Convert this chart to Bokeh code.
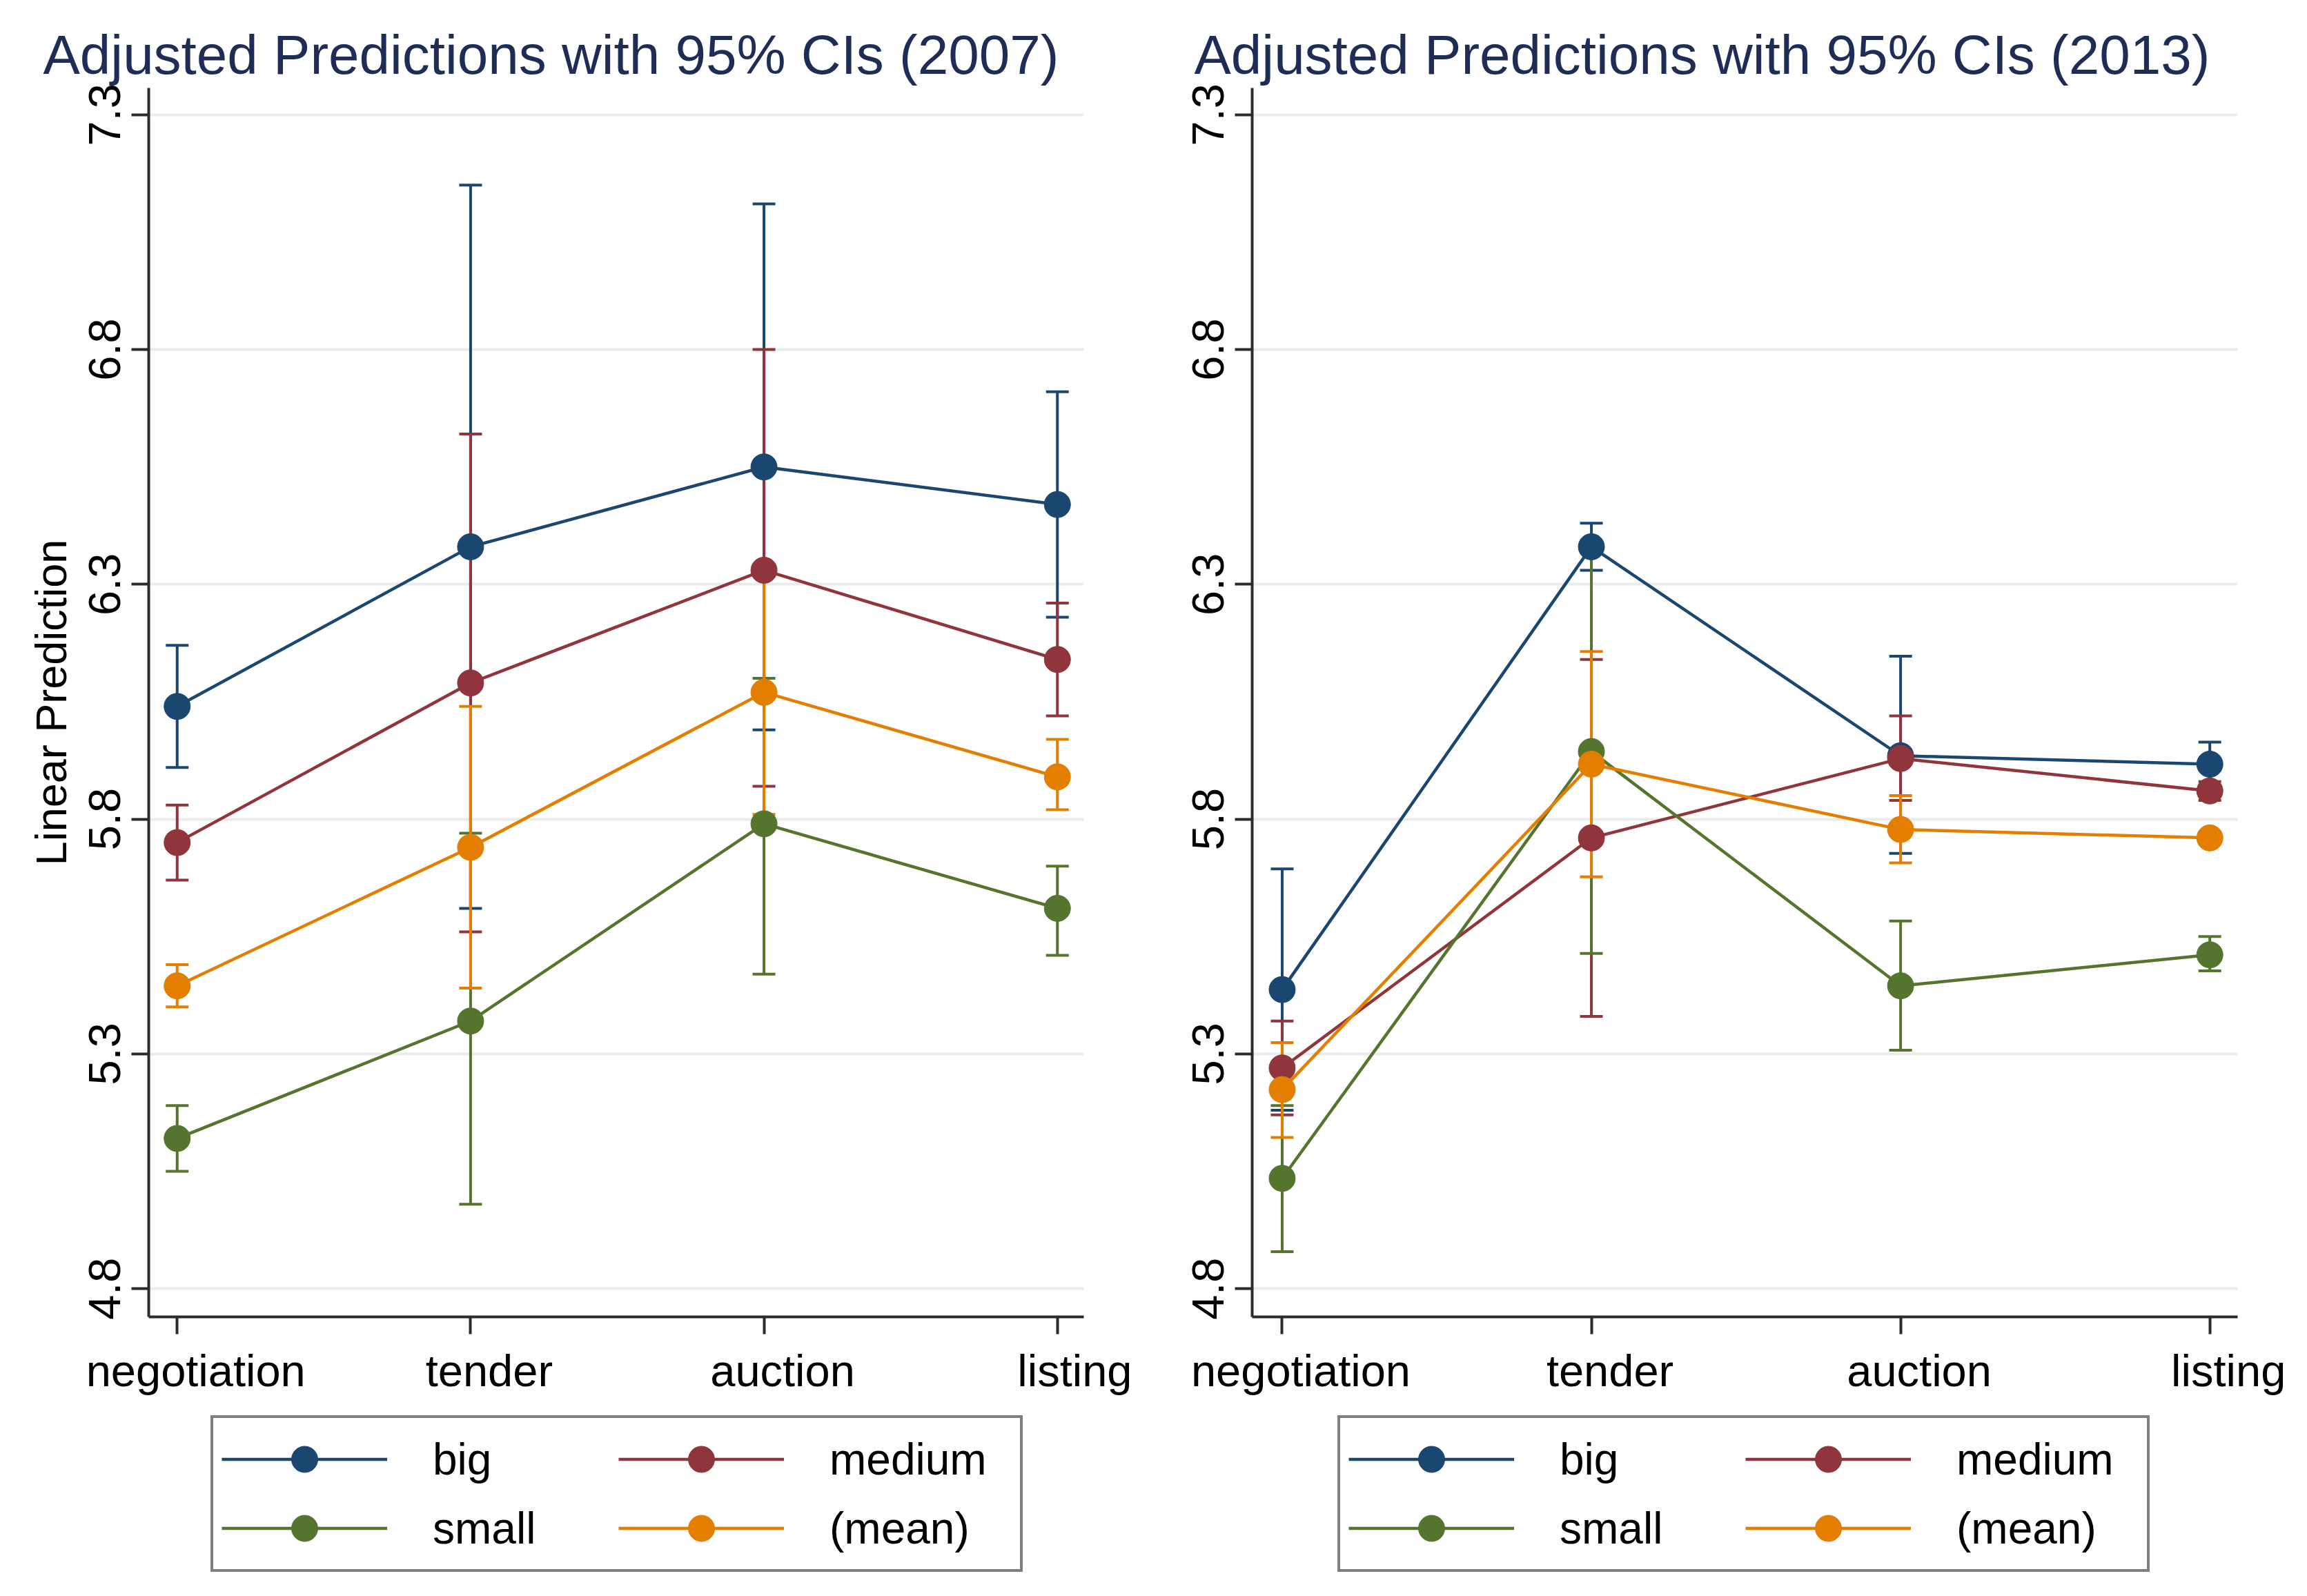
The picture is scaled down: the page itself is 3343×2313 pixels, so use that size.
from bokeh.plotting import figure
from bokeh.layouts import row, column
from bokeh.models import (ColumnDataSource, Range1d, FixedTicker, Whisker, TeeHead,
                          Legend, LegendItem, LinearAxis, CustomLabelingPolicy)
from bokeh.embed import file_html
from bokeh.resources import INLINE

categories = ["negotiation", "tender", "auction", "listing"]
cat_pos = [0, 1, 2, 3]
y_ticks = [4.8, 5.3, 5.8, 6.3, 6.8, 7.3]
series_names = ["big", "medium", "small", "(mean)"]
series_colors = ["#1a476f", "#90353b", "#55752f", "#e37e00"]

# 2007
big_2007 = [6.04, 6.38, 6.55, 6.47]
big_2007_lo = [5.91, 5.61, 5.99, 6.23]
big_2007_hi = [6.17, 7.15, 7.11, 6.71]
medium_2007 = [5.75, 6.09, 6.33, 6.14]
medium_2007_lo = [5.67, 5.56, 5.87, 6.02]
medium_2007_hi = [5.83, 6.62, 6.80, 6.26]
small_2007 = [5.12, 5.37, 5.79, 5.61]
small_2007_lo = [5.05, 4.98, 5.47, 5.51]
small_2007_hi = [5.19, 5.77, 6.10, 5.70]
mean_2007 = [5.445, 5.74, 6.07, 5.89]
mean_2007_lo = [5.40, 5.44, 5.81, 5.82]
mean_2007_hi = [5.49, 6.04, 6.33, 5.97]

# 2013
big_2013 = [5.437, 6.38, 5.935, 5.917]
big_2013_lo = [5.18, 6.33, 5.727, 5.87]
big_2013_hi = [5.694, 6.43, 6.147, 5.964]
medium_2013 = [5.27, 5.76, 5.929, 5.86]
medium_2013_lo = [5.17, 5.38, 5.84, 5.84]
medium_2013_hi = [5.37, 6.14, 6.02, 5.88]
small_2013 = [5.035, 5.944, 5.445, 5.511]
small_2013_lo = [4.879, 5.514, 5.308, 5.477]
small_2013_hi = [5.19, 6.37, 5.583, 5.55]
mean_2013 = [5.224, 5.917, 5.778, 5.76]
mean_2013_lo = [5.122, 5.677, 5.707, 5.75]
mean_2013_hi = [5.324, 6.157, 5.85, 5.77]

FONT = "Liberation Sans"
TOP_H = 2040
LEG_H = 257
X0, X1 = -0.097, 3.09
Y0, Y1 = 4.74, 7.357


def make_panel(title, title_offset, data, width, b_left, b_right, ylabel):
    p = figure(width=width, height=TOP_H, x_range=Range1d(X0, X1),
               y_range=Range1d(Y0, Y1), output_backend="svg",
               toolbar_location=None, min_border_left=b_left,
               min_border_right=b_right, min_border_top=127,
               min_border_bottom=132)
    p.outline_line_color = None
    p.background_fill_color = "white"
    p.border_fill_color = "white"
    p.title.text = title
    p.title.text_font = FONT
    p.title.text_font_size = "80px"
    p.title.text_font_style = "normal"
    p.title.text_color = "#1f2d56"
    p.title.align = "left"
    p.title.offset = title_offset
    p.title.standoff = 8

    p.xgrid.visible = False
    p.ygrid.grid_line_color = "#ebebeb"
    p.ygrid.grid_line_width = 4
    p.yaxis.ticker = FixedTicker(ticks=y_ticks)
    p.xaxis.ticker = FixedTicker(ticks=cat_pos)
    for ax in (p.xaxis[0], p.yaxis[0]):
        ax.axis_line_color = "#2b2b2b"
        ax.axis_line_width = 4
        ax.major_tick_line_color = "#2b2b2b"
        ax.major_tick_line_width = 4
        ax.major_tick_out = 25
        ax.major_tick_in = 0
        ax.minor_tick_line_color = None
        ax.major_label_text_font = FONT
        ax.major_label_text_font_size = "65px"
        ax.major_label_text_color = "black"
    # tick marks only on the main x axis; the category labels are drawn by a
    # second axis, nudged right as in the original
    p.xaxis[0].major_label_policy = CustomLabelingPolicy(code="return []")
    p.xaxis[0].major_label_text_font_size = "1px"
    p.xaxis[0].major_label_standoff = 0
    frame_w = width - b_left - b_right
    off = 27 * (X1 - X0) / frame_w
    label_pos = [round(c + off, 4) for c in cat_pos]
    lab_ax = LinearAxis(ticker=FixedTicker(ticks=label_pos),
                        major_label_overrides={lp: c for lp, c in zip(label_pos, categories)})
    lab_ax.axis_line_color = None
    lab_ax.major_tick_line_color = None
    lab_ax.minor_tick_line_color = None
    lab_ax.major_tick_out = 0
    lab_ax.major_tick_in = 0
    lab_ax.major_label_standoff = 12
    lab_ax.major_label_text_font = FONT
    lab_ax.major_label_text_font_size = "65px"
    lab_ax.major_label_text_color = "black"
    p.add_layout(lab_ax, "below")

    p.yaxis.major_label_orientation = "vertical"
    p.yaxis.major_label_standoff = 16
    if ylabel:
        p.yaxis.axis_label = ylabel
        p.yaxis.axis_label_text_font = FONT
        p.yaxis.axis_label_text_font_size = "63px"
        p.yaxis.axis_label_text_font_style = "normal"
        p.yaxis.axis_label_text_color = "black"
        p.yaxis.axis_label_standoff = 18

    for (name, color, (vals, lo, hi)) in zip(series_names, series_colors, data):
        src = ColumnDataSource(dict(x=cat_pos, y=vals, lo=lo, hi=hi))
        w = Whisker(base="x", upper="hi", lower="lo", source=src,
                    dimension="height", line_color=color, line_width=4,
                    upper_head=TeeHead(size=33, line_color=color, line_width=4),
                    lower_head=TeeHead(size=33, line_color=color, line_width=4))
        p.add_layout(w)
    for (name, color, (vals, lo, hi)) in zip(series_names, series_colors, data):
        src = ColumnDataSource(dict(x=cat_pos, y=vals))
        p.line("x", "y", source=src, line_color=color, line_width=4.5)
        p.scatter("x", "y", source=src, size=38, marker="circle",
                  fill_color=color, line_color=color)
    return p


def make_legend_fig(width, legend_x, data):
    # legend-only strip; its renderers hold the series but lie outside the
    # visible range, so only the legend is shown
    lf = figure(width=width, height=LEG_H, x_range=Range1d(X0, X1),
                y_range=Range1d(Y1 + 10, Y1 + 11), output_backend="svg",
                toolbar_location=None, x_axis_location=None,
                y_axis_location=None, min_border_left=0, min_border_right=0,
                min_border_top=0, min_border_bottom=0)
    lf.grid.visible = False
    lf.outline_line_color = None
    items = []
    for name, color, (vals, lo, hi) in zip(series_names, series_colors, data):
        src = ColumnDataSource(dict(x=cat_pos, y=vals))
        lr = lf.line("x", "y", source=src, line_color=color, line_width=4.5)
        sr = lf.scatter("x", "y", source=src, size=38, marker="circle",
                        fill_color=color, line_color=color)
        items.append(LegendItem(label=name, renderers=[lr, sr]))
    legend = Legend(items=items, orientation="horizontal", ncols=2,
                    location=(legend_x, 19))
    legend.label_text_font = FONT
    legend.label_text_font_size = "64px"
    legend.label_text_color = "black"
    legend.glyph_width = 240
    legend.glyph_height = 95
    legend.label_height = 95
    legend.label_width = 264
    legend.label_standoff = 66
    legend.spacing = 5
    legend.padding = 12
    legend.margin = 0
    legend.border_line_color = "black"
    legend.border_line_width = 4
    legend.background_fill_color = "white"
    legend.background_fill_alpha = 1.0
    lf.add_layout(legend)
    return lf


data_2007 = [(big_2007, big_2007_lo, big_2007_hi),
             (medium_2007, medium_2007_lo, medium_2007_hi),
             (small_2007, small_2007_lo, small_2007_hi),
             (mean_2007, mean_2007_lo, mean_2007_hi)]
data_2013 = [(big_2013, big_2013_lo, big_2013_hi),
             (medium_2013, medium_2013_lo, medium_2013_hi),
             (small_2013, small_2013_lo, small_2013_hi),
             (mean_2013, mean_2013_lo, mean_2013_hi)]

p1 = make_panel("Adjusted Predictions with 95% CIs (2007)", -153, data_2007,
                1640, 215, 70, "Linear Prediction")
p2 = make_panel("Adjusted Predictions with 95% CIs (2013)", -84, data_2013,
                1687, 174, 85, None)
l1 = make_legend_fig(1640, 305, data_2007)
l2 = make_legend_fig(1687, 298, data_2013)

layout = column(row(p1, p2), row(l1, l2))
open("out.html", "w").write(file_html(layout, INLINE))
